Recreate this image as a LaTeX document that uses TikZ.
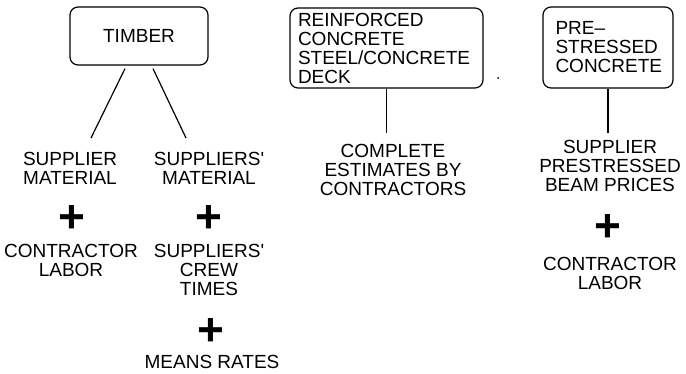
\documentclass[tikz,border=0pt]{standalone}
\usepackage{fontspec}
\setmainfont{Liberation Sans}
\usetikzlibrary{positioning}

\begin{document}
\begin{tikzpicture}[x=1pt, y=-1pt,
  catbox/.style={draw, line width=1.2pt, rounded corners=8pt, inner sep=0pt,
                 font=\fontsize{19}{19}\selectfont},
  lbl/.style={align=center, inner sep=0pt, font=\fontsize{19}{19}\selectfont},
  plussign/.style={inner sep=0pt, font=\fontsize{46}{46}\selectfont\bfseries},
  edge/.style={line width=1.2pt},
]
\useasboundingbox (0,0) rectangle (686,374);

% timber branch
\node[catbox, minimum width=138pt, minimum height=58pt] (timber) at (139,36) {TIMBER};

\node[lbl] (supmat) at (70,168.5) {SUPPLIER\\MATERIAL};
\node[plussign] (plusa) at (72,219) {+};
\node[lbl] (conlab) at (71,260.5) {CONTRACTOR\\LABOR};

\node[lbl] (suppmat) at (209,168.5) {SUPPLIERS\textquotesingle\\MATERIAL};
\node[plussign] (plusb) at (209,219) {+};
\node[lbl] (crew) at (209,270) {SUPPLIERS\textquotesingle\\CREW\\TIMES};
\node[plussign] (plusc) at (211,332) {+};
\node[lbl] (means) at (212,362) {MEANS RATES};

\coordinate (tl) at (91,138);
\coordinate (tr) at (186,138);
\draw[edge] ([xshift=-14pt, yshift=-3pt]timber.south) -- (tl);
\draw[edge] ([xshift=14pt, yshift=-3pt]timber.south) -- (tr);

% reinforced concrete
\node[catbox, text width=177pt, align=left, inner xsep=8pt, minimum height=80pt]
  (rcbox) at (386.5,48) {REINFORCED\\CONCRETE\\STEEL/CONCRETE\\DECK};
\node[lbl] (complete) at (393,170) {COMPLETE\\ESTIMATES BY\\CONTRACTORS};
\draw[edge, shorten >=11pt] (rcbox.south) -- (rcbox.south |- complete.north);
\fill (498,78) circle (1pt);

% prestressed concrete
\node[catbox, text width=105pt, align=left, inner xsep=12.5pt, minimum height=81pt]
  (pcbox) at (608,47.5) {PRE--\\STRESSED\\CONCRETE};
\node[lbl] (beamprice) at (610,166) {SUPPLIER\\PRESTRESSED\\BEAM PRICES};
\node[plussign] (plusd) at (608,228) {+};
\node[lbl] (conlabb) at (610,273.5) {CONTRACTOR\\LABOR};
\draw[edge, shorten >=7pt] (pcbox.south) -- (pcbox.south |- beamprice.north);

\end{tikzpicture}
\end{document}
